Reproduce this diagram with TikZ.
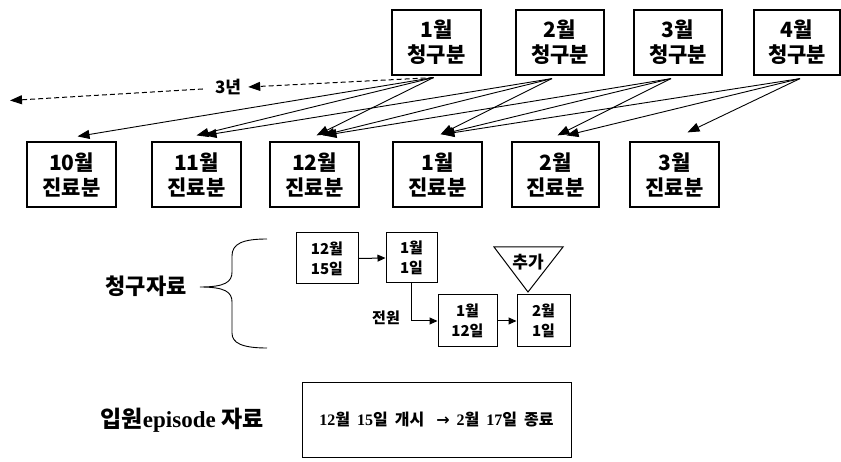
\documentclass[tikz,border=0pt]{standalone}
\usepackage{fontspec}
\setmainfont{Liberation Serif}
\newfontfamily\kr{Noto Sans CJK KR}
\newfontfamily\dv{DejaVu Sans}
\usetikzlibrary{arrows.meta}
\tikzset{
  topbox/.style={draw, line width=1.2pt, minimum width=88pt, minimum height=65pt, inner sep=0pt,
    align=center, font=\kr\bfseries\fontsize{21}{25}\selectfont},
  smallbox/.style={draw, line width=1pt, inner sep=0pt, align=center,
    font=\kr\bfseries\fontsize{15}{20}\selectfont},
  arr/.style={line width=0.9pt, -{Triangle[length=12pt,width=9pt]}},
  darr/.style={line width=1pt, dashed, dash pattern=on 5pt off 3pt, -{Triangle[length=12pt,width=9pt]}},
  sarr/.style={line width=1pt, -{Triangle[length=8pt,width=7pt]}},
  lbl/.style={font=\kr\bfseries, inner sep=0pt}
}
\begin{document}
\begin{tikzpicture}[x=1pt,y=-1pt]
\useasboundingbox (0,0) rectangle (841,462);
% top row
\node[topbox, minimum width=89pt] (c1) at (436.5,42.5) {1월\\청구분};
\node[topbox] (c2) at (560,42.5) {2월\\청구분};
\node[topbox] (c3) at (678,42.5) {3월\\청구분};
\node[topbox, minimum width=86pt] (c4) at (797,42.5) {4월\\청구분};
% bottom row
\node[topbox, minimum width=89pt] (j10) at (71.5,174.5) {10월\\진료분};
\node[topbox, minimum width=89pt] (j11) at (196.5,174.5) {11월\\진료분};
\node[topbox, minimum width=89pt] (j12) at (314.5,174.5) {12월\\진료분};
\node[topbox, minimum width=89pt] (j1) at (437.5,174.5) {1월\\진료분};
\node[topbox, minimum width=87pt] (j2) at (555.5,174.5) {2월\\진료분};
\node[topbox, minimum width=89pt] (j3) at (674.5,174.5) {3월\\진료분};
% arrows
\draw[arr] ([xshift=-3pt,yshift=-2pt]c1.south) -- ([xshift=6pt,yshift=5pt]j10.north);
\draw[arr] ([xshift=-3pt,yshift=-2pt]c1.south) -- ([xshift=0pt,yshift=6pt]j11.north);
\draw[arr] ([xshift=-3pt,yshift=-2pt]c1.south) -- ([xshift=2pt,yshift=6pt]j12.north);
\draw[arr] ([xshift=-8pt,yshift=-3pt]c2.south) -- ([xshift=8pt,yshift=6pt]j11.north);
\draw[arr] ([xshift=-8pt,yshift=-3pt]c2.south) -- ([xshift=8pt,yshift=6pt]j12.north);
\draw[arr] ([xshift=-8pt,yshift=-3pt]c2.south) -- ([xshift=3pt,yshift=7pt]j1.north);
\draw[arr] ([xshift=-7pt,yshift=-3pt]c3.south) -- ([xshift=10pt,yshift=6pt]j12.north);
\draw[arr] ([xshift=-7pt,yshift=-3pt]c3.south) -- ([xshift=4pt,yshift=7pt]j1.north);
\draw[arr] ([xshift=-7pt,yshift=-3pt]c3.south) -- ([xshift=2pt,yshift=6pt]j2.north);
\draw[arr] ([xshift=3pt,yshift=-3pt]c4.south) -- ([xshift=5pt,yshift=7pt]j1.north);
\draw[arr] ([xshift=3pt,yshift=-3pt]c4.south) -- ([xshift=11pt,yshift=6pt]j2.north);
\draw[arr] ([xshift=3pt,yshift=-3pt]c4.south) -- ([xshift=13pt,yshift=9pt]j3.north);
% 3 years dashed
\node[lbl, font=\kr\bfseries\fontsize{17}{18}\selectfont] (y3) at (228,87) {3년};
\coordinate (far) at (10,100.5);
\draw[darr] ([xshift=-3pt,yshift=-2pt]c1.south) -- ([xshift=7pt]y3.east);
\draw[darr] ([xshift=-12pt,yshift=-2pt]y3.west) -- (far);
% claim data
\node[lbl, font=\kr\bfseries\fontsize{22}{24}\selectfont] (cg) at (146,286) {청구자료};
\draw[line width=0.9pt] (267,239) .. controls (242,239) and (232,244) .. (232,256) -- (232,272)
  .. controls (232,282) and (225,287) .. (200,287)
  .. controls (225,287) and (232,292) .. (232,302) -- (232,333)
  .. controls (232,343) and (242,348) .. (267,348);
\node[smallbox, minimum width=62pt, minimum height=51pt] (b1) at (327,258.5) {12월\\15일};
\node[smallbox, minimum width=51pt, minimum height=50pt] (b2) at (411.5,258) {1월\\1일};
\node[smallbox, minimum width=59pt, minimum height=52pt] (b3) at (467.5,321) {1월\\12일};
\node[smallbox, minimum width=53pt, minimum height=52pt] (b4) at (543.5,321) {2월\\1일};
\draw[sarr] (b1.east) -- (b2.west);
\draw[sarr] (b2.south) |- (b3.west);
\draw[sarr] (b3.east) -- (b4.west);
\node[lbl, font=\kr\bfseries\fontsize{15}{17}\selectfont] (jw) at (386,318) {전원};
\draw[line width=1pt] (494,247) -- (563,247) -- (528,292) -- cycle;
\node[lbl, font=\kr\bfseries\fontsize{17}{18}\selectfont] (add) at (528,262) {추가};
% inpatient episode
\node[lbl, font=\kr\bfseries\fontsize{23}{24}\selectfont] (ep) at (182,420) {입원{\rmfamily\bfseries episode} 자료};
\node[draw, line width=1pt, minimum width=269pt, minimum height=75pt, inner sep=0pt,
  font=\bfseries\fontsize{16}{18}\selectfont] (epbox) at (436.5,419.5)
  {12{\kr 월}\hspace{7pt}15{\kr 일}\hspace{7pt}{\kr 개시}\hspace{12pt}{\dv\bfseries →}\hspace{7pt}2{\kr 월}\hspace{7pt}17{\kr 일}\hspace{7pt}{\kr 종료}};
\end{tikzpicture}
\end{document}
